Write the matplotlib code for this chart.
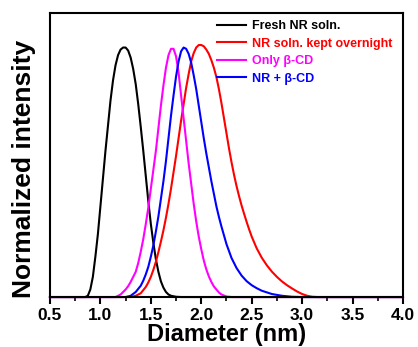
import matplotlib
matplotlib.use("Agg")
import matplotlib.pyplot as plt
from matplotlib.ticker import MultipleLocator

plt.rcParams['font.family'] = ['Liberation Sans', 'DejaVu Sans']
plt.rcParams['font.weight'] = 'bold'

# values
fresh_x = [0.85, 0.875, 0.90, 0.925, 0.95, 0.975, 1.00, 1.025, 1.05, 1.075, 1.10,
           1.125, 1.15, 1.175, 1.20, 1.225, 1.25, 1.275, 1.30, 1.325, 1.35, 1.375,
           1.40, 1.425, 1.45, 1.475, 1.50, 1.525, 1.55, 1.575, 1.60, 1.625, 1.65,
           1.675, 1.70, 1.75, 1.80]
fresh_y = [0.000, 0.005, 0.03, 0.08, 0.16, 0.25, 0.36, 0.47, 0.58, 0.68, 0.78,
           0.86, 0.92, 0.96, 0.982, 0.99, 0.99, 0.978, 0.95, 0.905, 0.845, 0.765,
           0.675, 0.58, 0.48, 0.38, 0.29, 0.215, 0.15, 0.10, 0.062, 0.037, 0.02,
           0.01, 0.005, 0.001, 0.0]

overnight_x = [1.30, 1.35, 1.40, 1.45, 1.475, 1.50, 1.525, 1.55, 1.575, 1.60, 1.625,
               1.65, 1.675, 1.70, 1.725, 1.75, 1.775, 1.80, 1.825, 1.85, 1.875, 1.90,
               1.925, 1.95, 1.975, 2.00, 2.025, 2.05, 2.075, 2.10, 2.125, 2.15, 2.175,
               2.20, 2.225, 2.25, 2.275, 2.30, 2.325, 2.35, 2.375, 2.40, 2.425, 2.45,
               2.475, 2.50, 2.55, 2.60, 2.65, 2.70, 2.75, 2.80, 2.85, 2.90, 2.95, 3.00,
               3.05, 3.10, 3.15]
overnight_y = [0.0, 0.005, 0.015, 0.04, 0.058, 0.08, 0.108, 0.14, 0.178, 0.22, 0.265,
               0.315, 0.37, 0.43, 0.495, 0.56, 0.63, 0.70, 0.765, 0.83, 0.885, 0.935,
               0.968, 0.99, 1.0, 1.0, 0.995, 0.982, 0.965, 0.94, 0.91, 0.873, 0.825,
               0.77, 0.71, 0.65, 0.59, 0.535, 0.485, 0.44, 0.40, 0.363, 0.33, 0.298,
               0.268, 0.24, 0.193, 0.156, 0.126, 0.101, 0.08, 0.062, 0.047, 0.034,
               0.022, 0.012, 0.005, 0.001, 0.0]

bcd_x = [1.15, 1.20, 1.25, 1.275, 1.30, 1.325, 1.35, 1.375, 1.40, 1.425, 1.45, 1.475,
         1.50, 1.525, 1.55, 1.575, 1.60, 1.625, 1.65, 1.675, 1.70, 1.725, 1.75, 1.775,
         1.80, 1.825, 1.85, 1.875, 1.90, 1.925, 1.95, 1.975, 2.00, 2.025, 2.05, 2.075,
         2.10, 2.125, 2.15, 2.175, 2.20, 2.25, 2.30]
bcd_y = [0.0, 0.01, 0.03, 0.043, 0.06, 0.08, 0.10, 0.135, 0.18, 0.23, 0.29, 0.355,
         0.43, 0.505, 0.58, 0.67, 0.76, 0.84, 0.91, 0.96, 0.985, 0.985, 0.955, 0.89,
         0.80, 0.71, 0.62, 0.53, 0.45, 0.37, 0.30, 0.24, 0.19, 0.145, 0.11, 0.082,
         0.06, 0.042, 0.03, 0.018, 0.01, 0.002, 0.0]

nr_bcd_x = [1.25, 1.30, 1.35, 1.40, 1.425, 1.45, 1.475, 1.50, 1.525, 1.55, 1.575,
            1.60, 1.625, 1.65, 1.675, 1.70, 1.725, 1.75, 1.775, 1.80, 1.825, 1.85,
            1.875, 1.90, 1.925, 1.95, 1.975, 2.00, 2.025, 2.05, 2.075, 2.10, 2.125,
            2.15, 2.175, 2.20, 2.25, 2.30, 2.35, 2.40, 2.45, 2.50, 2.55, 2.60, 2.70,
            2.80, 2.90, 3.00]
nr_bcd_y = [0.0, 0.005, 0.02, 0.045, 0.065, 0.09, 0.12, 0.16, 0.205, 0.26, 0.32,
            0.39, 0.46, 0.54, 0.63, 0.72, 0.80, 0.875, 0.935, 0.975, 0.99, 0.985,
            0.965, 0.93, 0.88, 0.825, 0.76, 0.695, 0.63, 0.57, 0.515, 0.46, 0.41,
            0.36, 0.318, 0.28, 0.21, 0.155, 0.115, 0.085, 0.063, 0.047, 0.035, 0.025,
            0.012, 0.005, 0.001, 0.0]

series = [
    ("Fresh NR soln.", fresh_x, fresh_y, "black"),
    ("NR soln. kept overnight", overnight_x, overnight_y, "red"),
    ("Only \u03b2-CD", bcd_x, bcd_y, "magenta"),
    ("NR + \u03b2-CD", nr_bcd_x, nr_bcd_y, "blue"),
]

fig = plt.figure(figsize=(4.18, 3.47), dpi=100)
ax = fig.add_axes([0.1196, 0.144, 0.8444, 0.8185])

for label, xs, ys, col in series:
    # flat baseline across the whole axis on both sides of each peak
    px = [0.5] + list(xs) + [4.0]
    py = [0.0] + list(ys) + [0.0]
    ax.plot(px, py, color=col, lw=1.5, label=label, clip_on=False,
            solid_joinstyle='round')

ax.set_xlim(0.5, 4.0)
ax.set_ylim(0, 1.127)
ax.xaxis.set_major_locator(MultipleLocator(0.5))
ax.xaxis.set_minor_locator(MultipleLocator(0.25))
ax.set_yticks([])
ax.tick_params(axis='x', which='major', direction='out', length=5, width=1.5,
               labelsize=12.5, pad=3)
ax.tick_params(axis='x', which='minor', direction='out', length=3, width=1.2)
for s in ax.spines.values():
    s.set_linewidth(1.5)

ax.set_xlabel("Diameter (nm)", fontsize=17, fontweight='bold', labelpad=0)
ax.set_ylabel("Normalized intensity", fontsize=19, fontweight='bold')
ax.yaxis.set_label_coords(-0.04, 0.45)

ax.legend(loc='upper right', bbox_to_anchor=(0.99, 1.0), frameon=False,
          handlelength=2.3, handletextpad=0.5, labelspacing=0.45,
          borderaxespad=0.15, labelcolor='linecolor',
          prop={'weight': 'bold', 'size': 9})

fig.savefig("out.png", dpi=100)
